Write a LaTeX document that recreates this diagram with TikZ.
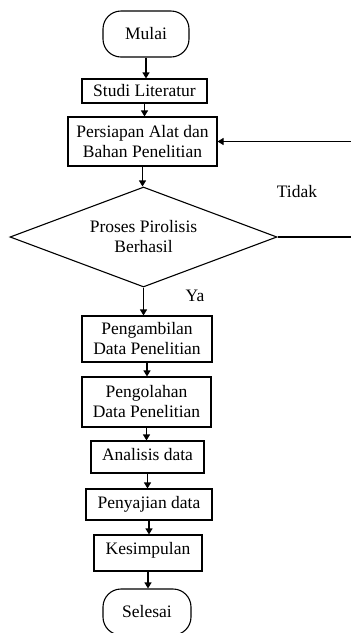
\documentclass[tikz,border=0pt]{standalone}
\usepackage{fontspec}
\setmainfont{Liberation Serif}
\usetikzlibrary{shapes.geometric, arrows.meta}
\tikzstyle{terminal} = [rectangle, rounded corners=18pt, minimum width=86pt, minimum height=46pt, inner sep=0pt, text centered, draw=black, line width=1.1pt]
\tikzstyle{process} = [rectangle, inner sep=0pt, text centered, align=center, draw=black, line width=1.1pt]
\tikzstyle{decision} = [diamond, aspect=2.67, minimum width=267pt, minimum height=100pt, inner sep=0pt, align=center, draw=black, line width=1.1pt]
\tikzstyle{arrow} = [line width=1.1pt,->,>={Triangle[length=6pt,width=7pt]}]

\begin{document}
\begin{tikzpicture}[x=1pt,y=1pt,node distance=55pt,font=\fontsize{17.5pt}{20pt}\selectfont]
\useasboundingbox (0,0) rectangle (351,-633);

\node (mulai) [terminal] at (146,-34) {Mulai};
\node (studi) [process, below of=mulai, yshift=-2pt, xshift=-1.5pt, minimum width=125pt, minimum height=24pt] {Studi Literatur};
\node (persiapan) [process, below of=studi, yshift=4.5pt, xshift=-2pt, minimum width=149pt, minimum height=49pt] {Persiapan Alat dan\\Bahan Penelitian};
\node (decision) [decision, below of=persiapan, yshift=-40.5pt, xshift=1pt] {Proses Pirolisis\\Berhasil};
\node (pengambilan) [process, below of=decision, yshift=-47pt, xshift=3.5pt, minimum width=130pt, minimum height=46pt] {Pengambilan\\Data Penelitian};
\node (pengolahan) [process, below of=pengambilan, yshift=-8pt, xshift=-0.5pt, minimum width=129pt, minimum height=50pt] {Pengolahan\\Data Penelitian};
\node (analisis) [process, below of=pengolahan, xshift=1pt, minimum width=113pt, minimum height=32pt, text depth=6pt] {Analisis data};
\node (penyajian) [process, below of=analisis, yshift=7.5pt, xshift=1.5pt, minimum width=126pt, minimum height=31pt] {Penyajian data};
\node (kesimpulan) [process, below of=penyajian, yshift=6.5pt, xshift=-1pt, minimum width=108pt, minimum height=36pt, text depth=10pt] {Kesimpulan};
\node (selesai) [terminal, below of=kesimpulan, yshift=-4pt, xshift=-1pt, minimum width=88pt] {Selesai};

\node (tidak) at (297,-192) {Tidak};
\node (ya) at (195,-296) {Ya};
\coordinate (loopCorner) at (358,-237);

\draw [arrow] (mulai.south) -- (mulai.south |- studi.north);
\draw [arrow] (studi.south) -- (studi.south |- persiapan.north);
\draw [arrow] (persiapan.south) -- (persiapan.south |- decision.north);
\draw [arrow] (decision.south) -- (decision.south |- pengambilan.north);
\draw [arrow] (pengambilan.south) -- (pengambilan.south |- pengolahan.north);
\draw [arrow] (pengolahan.south) -- (pengolahan.south |- analisis.north);
\draw [arrow] (analisis.south) -- (analisis.south |- penyajian.north);
\draw [arrow] (penyajian.south) -- (penyajian.south |- kesimpulan.north);
\draw [arrow] (kesimpulan.south) -- (kesimpulan.south |- selesai.north);
\draw [arrow] (decision.east) -- (loopCorner) |- (persiapan.east);
\end{tikzpicture}
\end{document}
